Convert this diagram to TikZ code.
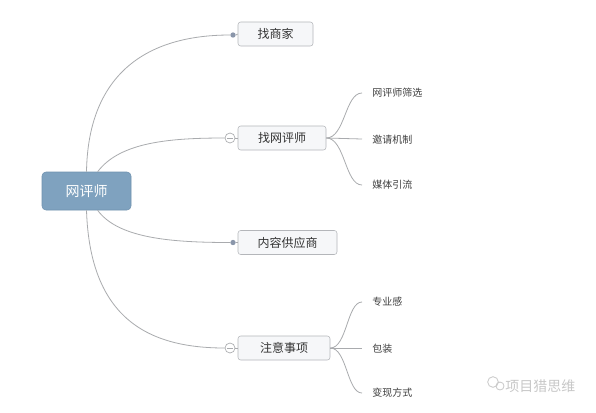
\documentclass[tikz,border=0pt]{standalone}
\usepackage{fontspec}
\newfontfamily\cjk{Noto Sans CJK SC}
\definecolor{rootfill}{HTML}{7FA2BF}
\definecolor{rootdraw}{HTML}{6F92AF}
\definecolor{boxdraw}{HTML}{B4B6BA}
\definecolor{boxfill}{HTML}{F6F7F9}
\definecolor{linecol}{HTML}{A9ABAE}
\definecolor{dotcol}{HTML}{8A96AA}
\definecolor{wmcol}{HTML}{C8C8C8}
\begin{document}
\begin{tikzpicture}[x=0.75pt,y=-0.75pt,
  rootbox/.style={draw=rootdraw,fill=rootfill,rounded corners=3pt,minimum height=28.5pt,minimum width=66.75pt,inner sep=0pt,text=white,font=\cjk\fontsize{10.5pt}{12pt}\selectfont},
  topic/.style={draw=boxdraw,fill=boxfill,rounded corners=2pt,minimum height=18pt,inner sep=0pt,text=black!80,font=\cjk\fontsize{9pt}{11pt}\selectfont},
  subtopic/.style={anchor=west,inner sep=0pt,text=black!75,font=\cjk\fontsize{7.5pt}{9pt}\selectfont},
  conn/.style={draw=linecol,line width=0.6pt},
  bullet/.style={circle,fill=dotcol,inner sep=0pt,minimum size=4pt},
  collapse/.style={circle,draw=linecol,fill=white,inner sep=0pt,minimum size=7.5pt,line width=0.5pt}
]
\useasboundingbox (0,0) rectangle (596,412);
\fill[white] (0,0) rectangle (596,412);

% root
\node[rootbox] (root) at (86.5,191) {网评师};

% main topics
\node[topic,minimum width=56.25pt] (n1) at (275.5,34) {找商家};
\node[topic,minimum width=66pt] (n2) at (282,138) {找网评师};
\node[topic,minimum width=74.25pt] (n3) at (287.5,242.5) {内容供应商};
\node[topic,minimum width=69pt] (n4) at (284,348) {注意事项};

% bullets / collapse markers
\node[bullet] (d1) at (233,35) {};
\node[bullet] (d3) at (233,242.5) {};
\node[collapse] (c2) at (230,138) {};
\node[collapse] (c4) at (230,348) {};
\draw[linecol,line width=0.5pt] ([xshift=-2pt]c2.center) -- ([xshift=2pt]c2.center);
\draw[linecol,line width=0.5pt] ([xshift=-2pt]c4.center) -- ([xshift=2pt]c4.center);

% root connectors
\draw[conn] (root.north) .. controls (88,80) and (140,35) .. (d1.west);
\draw[conn] (root.60) .. controls (120,142) and (170,138) .. (c2.west);
\draw[conn] (root.-60) .. controls (118,238) and (170,242.5) .. (d3.west);
\draw[conn] (root.south) .. controls (90,320) and (150,348) .. (c4.west);
\draw[conn] (c2.east) -- (n2.west);
\draw[conn] (c4.east) -- (n4.west);
\draw[conn] (d1.east) -- (n1.west);
\draw[conn] (d3.east) -- (n3.west);

% subtopics of 找网评师
\node[subtopic] (s1) at (372,93) {网评师筛选};
\node[subtopic] (s2) at (372,140) {邀请机制};
\node[subtopic] (s3) at (372,185) {媒体引流};
\coordinate (e1) at (362,93);
\coordinate (e2) at (362,139);
\coordinate (e3) at (362,185);
\draw[conn] (n2.east) .. controls (345,138) and (345,93) .. (e1);
\draw[conn] (n2.east) -- (e2);
\draw[conn] (n2.east) .. controls (345,138) and (345,185) .. (e3);

% subtopics of 注意事项
\node[subtopic] (t1) at (372,302) {专业感};
\node[subtopic] (t2) at (372,349) {包装};
\node[subtopic] (t3) at (372,393) {变现方式};
\coordinate (f1) at (362,302);
\coordinate (f2) at (362,348);
\coordinate (f3) at (362,393);
\draw[conn] (n4.east) .. controls (347,348) and (347,302) .. (f1);
\draw[conn] (n4.east) -- (f2);
\draw[conn] (n4.east) .. controls (347,348) and (347,393) .. (f3);

% watermark
\node[circle,draw=wmcol,line width=0.6pt,minimum size=8pt,inner sep=0pt] (w1) at (493,382) {};
\node[circle,draw=wmcol,line width=0.6pt,minimum size=6pt,inner sep=0pt] (w2) at (500,386) {};
\node[anchor=west,inner sep=0pt,text=wmcol,font=\cjk\fontsize{10.5pt}{12pt}\selectfont] (wm) at (505,386) {项目猎思维};
\end{tikzpicture}
\end{document}
